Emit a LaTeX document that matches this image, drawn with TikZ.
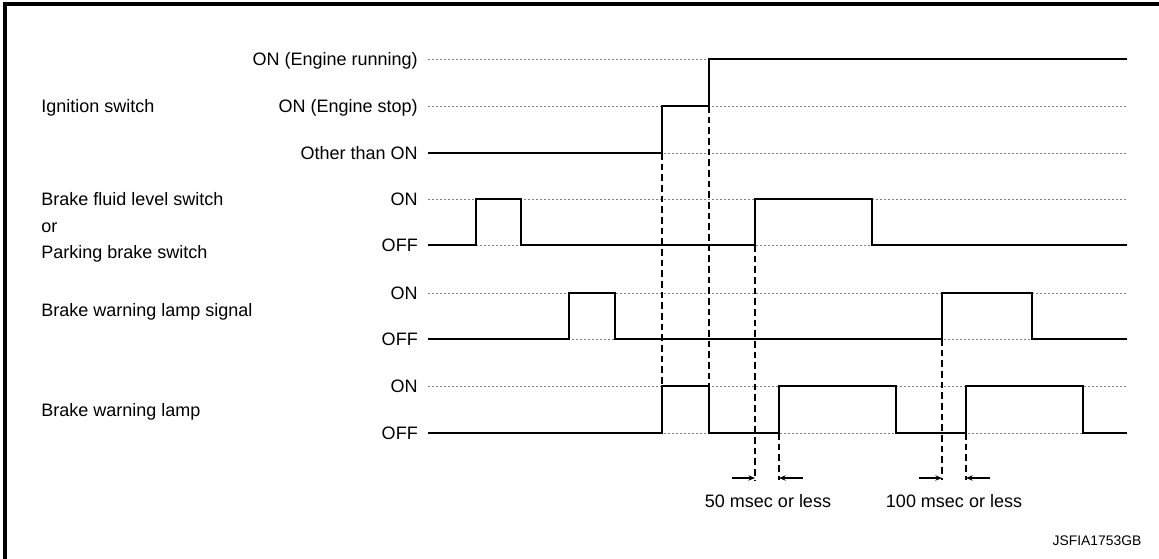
\documentclass[tikz,border=0pt]{standalone}
\usepackage{fontspec}
\setmainfont{Liberation Sans}
\usetikzlibrary{arrows.meta}
\begin{document}
\begin{tikzpicture}[x=0.75pt,y=-0.75pt,
  lbl/.style={inner sep=0pt, font=\fontsize{13.5}{15}\selectfont, text height=9.7pt, text depth=0pt},
  lvl/.style={lbl, anchor=east},
  grid/.style={gray, line width=0.6pt, dash pattern=on 1.6pt off 1.4pt},
  sig/.style={line width=2.2pt, line join=miter},
  guide/.style={line width=0.8pt, dash pattern=on 5pt off 3pt},
  gap/.style={-{Stealth[length=5pt,width=4pt]}, line width=0.8pt}]

\useasboundingbox (0,0) rectangle (1159,558);

% Frame
\draw[line width=2.6pt] (5,1000) -- (5,4) -- (1200,4);

% Level labels
\node[lvl] (run) at (418,59) {ON (Engine running)};
\node[lvl] (stop) at (418,106) {ON (Engine stop)};
\node[lvl] (other) at (418,153) {Other than ON};
\node[lvl] (bfon) at (418,199) {ON};
\node[lvl] (bfoff) at (418,245) {OFF};
\node[lvl] (wson) at (418,293) {ON};
\node[lvl] (wsoff) at (418,339) {OFF};
\node[lvl] (wlon) at (418,386) {ON};
\node[lvl] (wloff) at (418,433) {OFF};

% Signal names
\node[lbl, anchor=west] (ign) at (41,106) {Ignition switch};
\node[lbl, anchor=west] (bfl) at (41,199) {Brake fluid level switch};
\node[lbl, anchor=west] (bfor) at (41,226) {or};
\node[lbl, anchor=west] (pkb) at (41,252) {Parking brake switch};
\node[lbl, anchor=west] (wsig) at (41,310) {Brake warning lamp signal};
\node[lbl, anchor=west] (wlamp) at (41,410) {Brake warning lamp};

% Dotted level lines
\foreach \y in {59,106,153,199,245,293,339,386,433}
  \draw[grid] (428,\y) -- (1127,\y);

% Ignition switch
\draw[sig] (428,153) -- (662,153) -- (662,106) -- (709,106) -- (709,59) -- (1127,59);

% Brake fluid level / parking brake switch
\draw[sig] (428,245) -- (476,245) -- (476,199) -- (521,199) -- (521,245)
  -- (755,245) -- (755,199) -- (872,199) -- (872,245) -- (1127,245);

% Brake warning lamp signal
\draw[sig] (428,339) -- (569,339) -- (569,293) -- (615,293) -- (615,339)
  -- (942,339) -- (942,293) -- (1032,293) -- (1032,339) -- (1127,339);

% Brake warning lamp
\draw[sig] (428,433) -- (662,433) -- (662,386) -- (709,386) -- (709,433)
  -- (779,433) -- (779,386) -- (896,386) -- (896,433) -- (966,433)
  -- (966,386) -- (1083,386) -- (1083,433) -- (1127,433);

% Timing guides
\draw[guide] (662,153) -- (662,386);
\draw[guide] (709,106) -- (709,386);
\draw[guide] (755,245) -- (755,480);
\draw[guide] (779,433) -- (779,480);
\draw[guide] (942,339) -- (942,480);
\draw[guide] (966,433) -- (966,480);

% Delay marks
\coordinate (a1) at (755,478);
\coordinate (a2) at (779,478);
\coordinate (a3) at (942,478);
\coordinate (a4) at (966,478);
\draw[gap] ([xshift=-17]a1) -- (a1);
\draw[gap] ([xshift=18]a2) -- (a2);
\draw[gap] ([xshift=-17]a3) -- (a3);
\draw[gap] ([xshift=18]a4) -- (a4);
\node[lbl] (d50) at (768,501) {50 msec or less};
\node[lbl] (d100) at (954,501) {100 msec or less};

\node[inner sep=0pt, font=\fontsize{10.4}{12}\selectfont] (code) at (1097,541) {JSFIA1753GB};

\end{tikzpicture}
\end{document}
